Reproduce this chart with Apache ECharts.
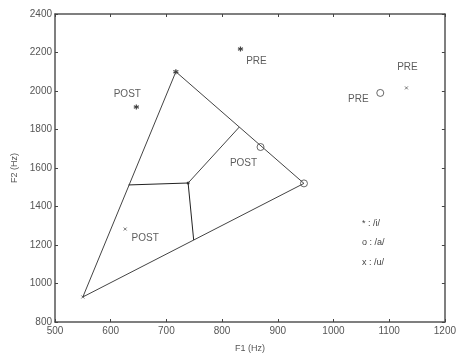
<!DOCTYPE html>
<html><head><meta charset="utf-8">
<script src="https://cdn.jsdelivr.net/npm/echarts@6/dist/echarts.min.js"></script>
<style>html,body{margin:0;padding:0;background:#fff}#c{width:459px;height:358px}</style>
</head><body><div id="c"></div>
<script>
// Vowel triangle (F1, F2)
var triangleF1 = [550, 717, 947, 550];
var triangleF2 = [930, 2100, 1520, 930];
var innerA_F1 = [632, 739, 749];
var innerA_F2 = [1512, 1522, 1226];
var innerB_F1 = [739, 831];
var innerB_F2 = [1522, 1813];
// /i/ points: vertex, PRE, POST
var iF1 = [717, 833, 646];
var iF2 = [2100, 2218, 1917];
// /a/ points
var aF1 = [947, 1084, 869];
var aF2 = [1520, 1990, 1709];
// /u/ points
var uF1 = [550, 1131, 626];
var uF2 = [930, 2016, 1283];
var pointLabels = ['', 'PRE', 'POST'];
var xTicks = [500, 600, 700, 800, 900, 1000, 1100, 1200];
var yTicks = [800, 1000, 1200, 1400, 1600, 1800, 2000, 2200, 2400];
var legendLines = ['* : /i/', 'o : /a/', 'x : /u/'];

function pairs(xs, ys) { return xs.map(function (x, i) { return [x, ys[i]]; }); }
var lineCol = '#444';
var starPath = 'path://M0,-10L0,10M-8.66,-5L8.66,5M-8.66,5L8.66,-5';
var xPath = 'path://M-7,-7L7,7M-7,7L7,-7';
var FONT = 'Liberation Sans, Arial, sans-serif';

function labelled(xs, ys, offsets) {
  return xs.map(function (x, i) {
    var d = { value: [x, ys[i]] };
    if (pointLabels[i]) {
      d.label = { show: true, formatter: pointLabels[i], position: 'inside', offset: offsets[i] };
    }
    return d;
  });
}
var labelStyle = { fontFamily: FONT, fontSize: 10, color: '#333' };

var chart = echarts.init(document.getElementById('c'));
var axisCommon = {
  axisLine: { lineStyle: { color: '#555', width: 1.5 } },
  axisTick: { inside: true, length: 3, lineStyle: { color: '#444' } },
  splitLine: { show: false },
  axisLabel: { fontFamily: FONT, fontSize: 10, color: '#555', formatter: function (v) { return String(v); } }
};
chart.setOption({
  animation: false,
  backgroundColor: '#fff',
  grid: { left: 55, top: 14, right: 11, bottom: 36 },
  xAxis: [
    Object.assign({ type: 'value', min: xTicks[0], max: xTicks[xTicks.length - 1], interval: 100,
      name: 'F1 (Hz)', nameLocation: 'middle', nameGap: 22,
      nameTextStyle: { fontFamily: FONT, fontSize: 9, color: '#555' } }, axisCommon,
      { axisLabel: Object.assign({}, axisCommon.axisLabel, { margin: 4 }) }),
    Object.assign({ type: 'value', position: 'top', min: 500, max: 1200, interval: 100 }, axisCommon,
      { axisLabel: { show: false } })
  ],
  yAxis: [
    Object.assign({ type: 'value', min: yTicks[0], max: yTicks[yTicks.length - 1], interval: 200,
      name: 'F2 (Hz)', nameLocation: 'middle', nameGap: 36, nameRotate: 90,
      nameTextStyle: { fontFamily: FONT, fontSize: 9, color: '#555' } }, axisCommon,
      { axisLabel: Object.assign({}, axisCommon.axisLabel, { margin: 3 }) }),
    Object.assign({ type: 'value', position: 'right', min: 800, max: 2400, interval: 200 }, axisCommon,
      { axisLabel: { show: false } })
  ],
  series: [
    { type: 'line', data: pairs(triangleF1, triangleF2), symbol: 'none', lineStyle: { color: lineCol, width: 1 } },
    { type: 'line', data: pairs(innerA_F1, innerA_F2), symbol: 'none', lineStyle: { color: '#222', width: 1 } },
    { type: 'line', data: pairs(innerB_F1, innerB_F2), symbol: 'none', lineStyle: { color: lineCol, width: 1 } },
    { type: 'scatter', data: [[innerA_F1[1], innerA_F2[1]]], symbol: 'circle', symbolSize: 3, itemStyle: { color: '#111' } },
    { type: 'scatter', data: labelled(iF1, iF2, [[0,0],[16,12],[-9,-13]]), symbol: starPath, symbolSize: 5,
      itemStyle: { color: 'none', borderColor: '#111', borderWidth: 1.2 }, label: labelStyle },
    { type: 'scatter', data: labelled(aF1, aF2, [[0,0],[-22,6],[-17,16]]), symbol: 'circle', symbolSize: 7,
      itemStyle: { color: '#fff', borderColor: '#444', borderWidth: 1 }, label: labelStyle },
    { type: 'scatter', data: labelled(uF1, uF2, [[0,0],[1,-21],[20,9]]), symbol: xPath, symbolSize: 3,
      itemStyle: { color: 'none', borderColor: '#555', borderWidth: 1 }, label: labelStyle }
  ],
  graphic: legendLines.map(function (t, i) {
    return { type: 'text', left: 362, top: 219 + i * 19.5,
      style: { text: t, fontFamily: FONT, fontSize: 9, fill: '#444' } };
  })
});
</script></body></html>
